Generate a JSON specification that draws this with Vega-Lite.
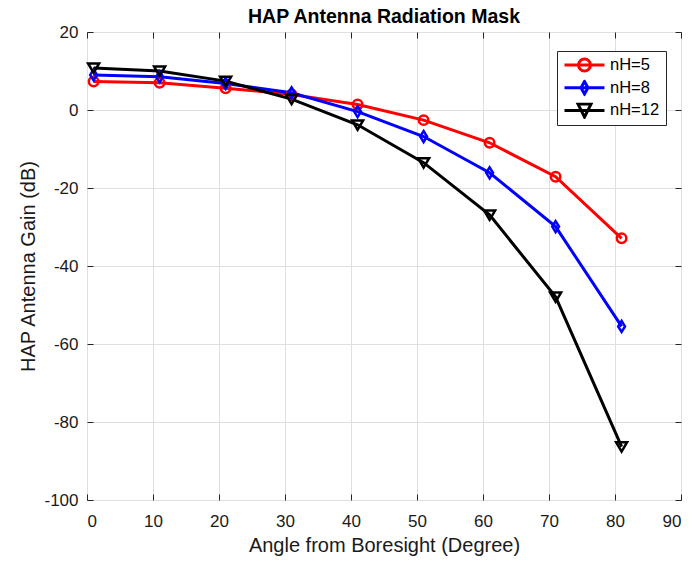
{
  "$schema": "https://vega.github.io/schema/vega-lite/v6.json",
  "width": 594,
  "height": 468,
  "autosize": "none",
  "padding": {"left": 87, "top": 32, "right": 12, "bottom": 62},
  "background": "white",
  "title": {"text": "HAP Antenna Radiation Mask", "font": "Liberation Sans", "fontSize": 19.5, "fontWeight": "bold", "color": "#000000", "anchor": "middle", "offset": -4},
  "config": {
    "font": "Liberation Sans",
    "view": {"stroke": "#262626", "strokeWidth": 1},
    "axis": {
      "labelFont": "Liberation Sans", "labelFontSize": 17, "labelColor": "#1a1a1a",
      "titleFont": "Liberation Sans", "titleFontSize": 20, "titleFontWeight": "normal", "titleColor": "#1a1a1a",
      "domain": false, "tickColor": "#262626", "tickSize": -6, "gridColor": "#dfdfdf", "gridOpacity": 1,
      "labelExpr": "datum.value < 0 ? '-' + abs(datum.value) : '' + datum.value"
    },
    "legend": {
      "orient": "none", "legendX": 470, "legendY": 19,
      "strokeColor": "#262626", "fillColor": "white", "padding": 6,
      "labelFont": "Liberation Sans", "labelFontSize": 16.5, "labelColor": "#000000",
      "symbolStrokeWidth": 3, "symbolSize": 196, "labelOffset": 30, "rowPadding": 5.7, "clipHeight": 16
    }
  },
  "datasets": {
    "d": [
      {"angle": 1, "gain": 7.3, "series": "nH=5"},
      {"angle": 11, "gain": 7.0, "series": "nH=5"},
      {"angle": 21, "gain": 5.6, "series": "nH=5"},
      {"angle": 31, "gain": 4.0, "series": "nH=5"},
      {"angle": 41, "gain": 1.4, "series": "nH=5"},
      {"angle": 51, "gain": -2.6, "series": "nH=5"},
      {"angle": 61, "gain": -8.4, "series": "nH=5"},
      {"angle": 71, "gain": -17.1, "series": "nH=5"},
      {"angle": 81, "gain": -32.9, "series": "nH=5"},
      {"angle": 1, "gain": 9.0, "series": "nH=8"},
      {"angle": 11, "gain": 8.5, "series": "nH=8"},
      {"angle": 21, "gain": 6.8, "series": "nH=8"},
      {"angle": 31, "gain": 4.4, "series": "nH=8"},
      {"angle": 41, "gain": -0.4, "series": "nH=8"},
      {"angle": 51, "gain": -6.8, "series": "nH=8"},
      {"angle": 61, "gain": -16.1, "series": "nH=8"},
      {"angle": 71, "gain": -29.9, "series": "nH=8"},
      {"angle": 81, "gain": -55.5, "series": "nH=8"},
      {"angle": 1, "gain": 10.8, "series": "nH=12"},
      {"angle": 11, "gain": 10.0, "series": "nH=12"},
      {"angle": 21, "gain": 7.4, "series": "nH=12"},
      {"angle": 31, "gain": 2.8, "series": "nH=12"},
      {"angle": 41, "gain": -3.8, "series": "nH=12"},
      {"angle": 51, "gain": -13.5, "series": "nH=12"},
      {"angle": 61, "gain": -26.9, "series": "nH=12"},
      {"angle": 71, "gain": -47.9, "series": "nH=12"},
      {"angle": 81, "gain": -86.3, "series": "nH=12"}
    ]
  },
  "resolve": {
    "scale": {"color": "independent", "shape": "independent"},
    "axis": {"x": "independent", "y": "independent"}
  },
  "layer": [
    {
      "data": {"name": "d"},
      "encoding": {
        "x": {"field": "angle", "type": "quantitative", "scale": {"domain": [0, 90], "nice": false},
              "axis": {"orient": "bottom", "values": [0, 10, 20, 30, 40, 50, 60, 70, 80, 90], "title": "Angle from Boresight (Degree)", "labelPadding": 19, "titlePadding": 6}},
        "y": {"field": "gain", "type": "quantitative", "scale": {"domain": [-100, 20], "nice": false},
              "axis": {"orient": "left", "values": [-100, -80, -60, -40, -20, 0, 20], "title": "HAP Antenna Gain (dB)", "labelPadding": 15, "titlePadding": 5}},
        "color": {"field": "series", "type": "nominal", "legend": null,
                  "scale": {"domain": ["nH=5", "nH=8", "nH=12"], "range": ["#ff0000", "#0000ff", "#000000"]}}
      },
      "layer": [
        {"mark": {"type": "line", "strokeWidth": 3}},
        {"mark": {"type": "point", "filled": false, "strokeWidth": 2.5, "opacity": 1},
         "encoding": {
           "shape": {"field": "series", "type": "nominal", "legend": null,
                     "scale": {"domain": ["nH=5", "nH=8", "nH=12"],
                               "range": ["M0.86,0A0.86,0.86,0,1,1,-0.86,0A0.86,0.86,0,1,1,0.86,0", "M0,-1L0.62,0L0,1L-0.62,0Z", "M-1,-0.8L1,-0.8L0,0.9Z"]}},
           "size": {"value": 121}
         }}
      ]
    },
    {
      "data": {"name": "d"},
      "transform": [{"filter": "false"}],
      "mark": {"type": "point", "filled": false, "strokeWidth": 3, "opacity": 1},
      "encoding": {
        "x": {"field": "angle", "type": "quantitative", "scale": {"domain": [0, 90], "nice": false},
              "axis": {"orient": "top", "values": [0, 10, 20, 30, 40, 50, 60, 70, 80, 90], "labels": false, "grid": false, "title": null}},
        "y": {"field": "gain", "type": "quantitative", "scale": {"domain": [-100, 20], "nice": false},
              "axis": {"orient": "right", "values": [-100, -80, -60, -40, -20, 0, 20], "labels": false, "grid": false, "title": null}},
        "color": {"field": "series", "type": "nominal", "title": null,
                  "scale": {"domain": ["nH=5", "nH=8", "nH=12"], "range": ["#ff0000", "#0000ff", "#000000"]}},
        "shape": {"field": "series", "type": "nominal", "title": null,
                  "scale": {"domain": ["nH=5", "nH=8", "nH=12"],
                            "range": ["M-1,0L4.71,0M2.714,0A0.857,0.857,0,1,1,1,0A0.857,0.857,0,1,1,2.714,0",
                                      "M-1,0L4.71,0M1.857,-0.9L2.357,0L1.857,0.9L1.357,0Z",
                                      "M-1,0L4.71,0M0.93,-0.9L2.79,-0.9L1.857,0.95Z"]}}
      }
    }
  ]
}
